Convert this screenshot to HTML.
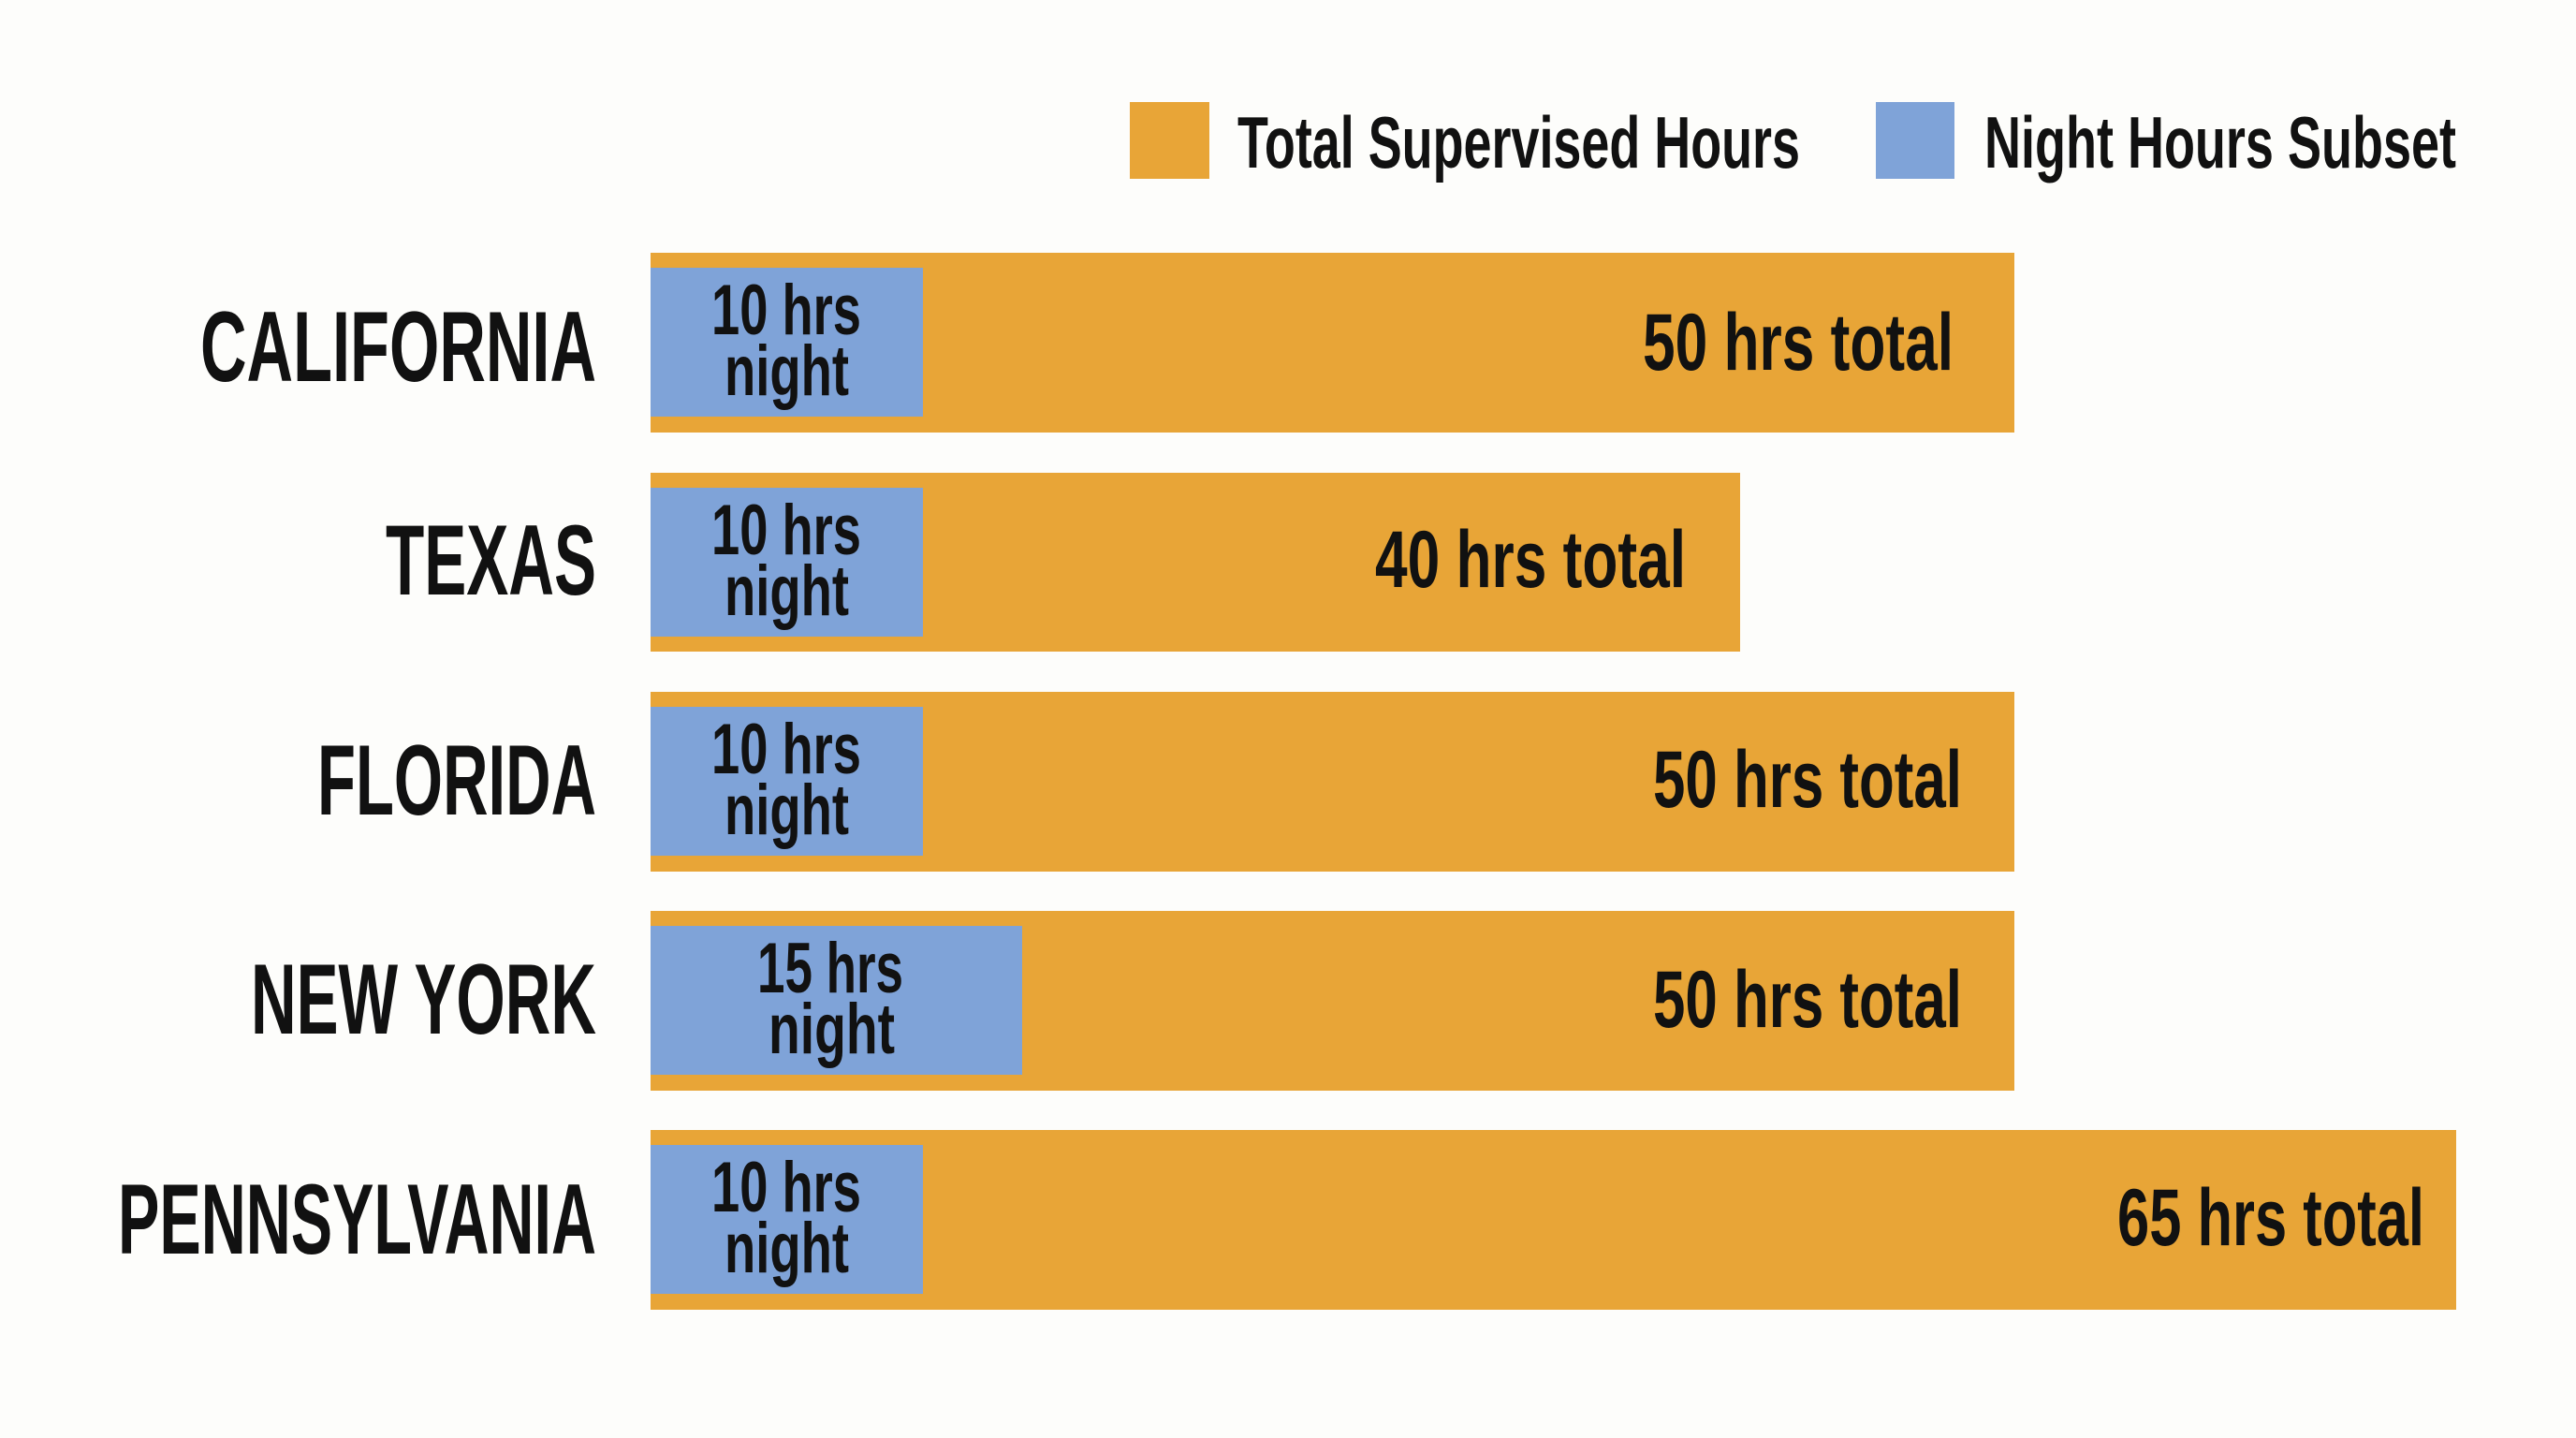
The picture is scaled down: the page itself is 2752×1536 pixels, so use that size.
<!DOCTYPE html>
<html><head><meta charset="utf-8"><style>
html,body{margin:0;padding:0;background:#FDFDFB;}
svg{display:block;}
text{font-family:"Liberation Sans Narrow","Liberation Sans",sans-serif;font-weight:bold;fill:#111;}
</style></head><body>
<svg width="2752" height="1536" viewBox="0 0 2752 1536" xmlns="http://www.w3.org/2000/svg">
<rect width="2752" height="1536" fill="#FDFDFB"/>
<!-- legend -->
<rect x="1207" y="109" width="85" height="82" fill="#E8A537"/>
<text x="1322" y="179" font-size="78" textLength="601" lengthAdjust="spacingAndGlyphs">Total Supervised Hours</text>
<rect x="2004" y="109" width="84" height="82" fill="#7FA3D8"/>
<text x="2120" y="179" font-size="78" textLength="504" lengthAdjust="spacingAndGlyphs">Night Hours Subset</text>

<!-- CALIFORNIA -->
<text x="214" y="407" font-size="107" textLength="423" lengthAdjust="spacingAndGlyphs">CALIFORNIA</text>
<rect x="695" y="270" width="1457" height="192" fill="#E8A537"/>
<rect x="695" y="286" width="291" height="159" fill="#7FA3D8"/>
<text x="760" y="357" font-size="76" textLength="160" lengthAdjust="spacingAndGlyphs">10 hrs</text>
<text x="774" y="422" font-size="76" textLength="133" lengthAdjust="spacingAndGlyphs">night</text>
<text x="1755" y="395" font-size="86" textLength="332" lengthAdjust="spacingAndGlyphs">50 hrs total</text>

<!-- TEXAS -->
<text x="412" y="635" font-size="107" textLength="225" lengthAdjust="spacingAndGlyphs">TEXAS</text>
<rect x="695" y="505" width="1164" height="191" fill="#E8A537"/>
<rect x="695" y="521" width="291" height="159" fill="#7FA3D8"/>
<text x="760" y="592" font-size="76" textLength="160" lengthAdjust="spacingAndGlyphs">10 hrs</text>
<text x="774" y="657" font-size="76" textLength="133" lengthAdjust="spacingAndGlyphs">night</text>
<text x="1469" y="627" font-size="86" textLength="332" lengthAdjust="spacingAndGlyphs">40 hrs total</text>

<!-- FLORIDA -->
<text x="339" y="870" font-size="107" textLength="298" lengthAdjust="spacingAndGlyphs">FLORIDA</text>
<rect x="695" y="739" width="1457" height="192" fill="#E8A537"/>
<rect x="695" y="755" width="291" height="159" fill="#7FA3D8"/>
<text x="760" y="826" font-size="76" textLength="160" lengthAdjust="spacingAndGlyphs">10 hrs</text>
<text x="774" y="891" font-size="76" textLength="133" lengthAdjust="spacingAndGlyphs">night</text>
<text x="1766" y="862" font-size="86" textLength="330" lengthAdjust="spacingAndGlyphs">50 hrs total</text>

<!-- NEW YORK -->
<text x="268" y="1104" font-size="107" textLength="369" lengthAdjust="spacingAndGlyphs">NEW YORK</text>
<rect x="695" y="973" width="1457" height="192" fill="#E8A537"/>
<rect x="695" y="989" width="397" height="159" fill="#7FA3D8"/>
<text x="809" y="1060" font-size="76" textLength="156" lengthAdjust="spacingAndGlyphs">15 hrs</text>
<text x="821" y="1125" font-size="76" textLength="135" lengthAdjust="spacingAndGlyphs">night</text>
<text x="1766" y="1097" font-size="86" textLength="330" lengthAdjust="spacingAndGlyphs">50 hrs total</text>

<!-- PENNSYLVANIA -->
<text x="126" y="1339" font-size="107" textLength="511" lengthAdjust="spacingAndGlyphs">PENNSYLVANIA</text>
<rect x="695" y="1207" width="1929" height="192" fill="#E8A537"/>
<rect x="695" y="1223" width="291" height="159" fill="#7FA3D8"/>
<text x="760" y="1294" font-size="76" textLength="160" lengthAdjust="spacingAndGlyphs">10 hrs</text>
<text x="774" y="1359" font-size="76" textLength="133" lengthAdjust="spacingAndGlyphs">night</text>
<text x="2262" y="1330" font-size="86" textLength="328" lengthAdjust="spacingAndGlyphs">65 hrs total</text>
</svg>
</body></html>
